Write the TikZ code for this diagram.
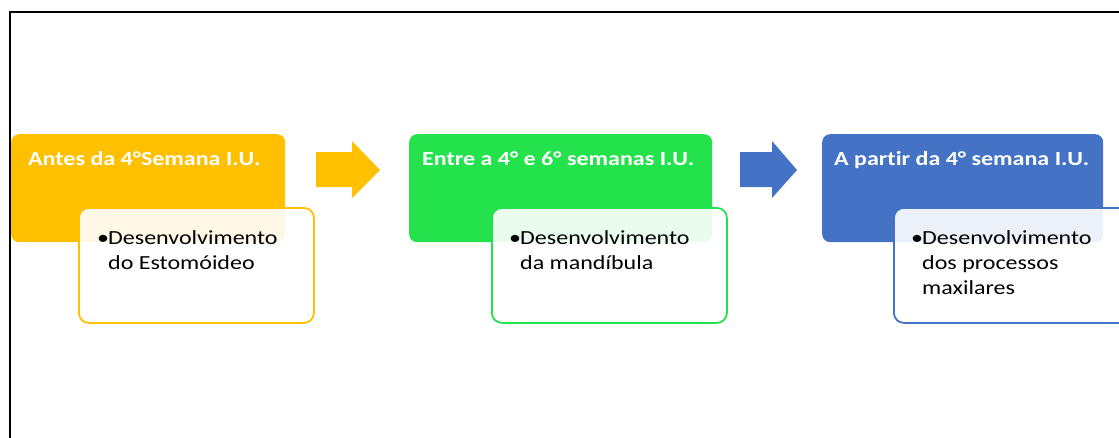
\documentclass[tikz,border=0pt]{standalone}
\usepackage{graphicx}
\usepackage{fontspec}
\setmainfont{Carlito}[Ligatures=NoCommon]
\usepackage{tikz}
\usetikzlibrary{positioning}

\definecolor{stageyellow}{HTML}{FFC000}
\definecolor{stagegreen}{HTML}{24E24C}
\definecolor{stageblue}{HTML}{4472C4}

% text in the reference is a bit wider than tall
\newcommand{\widetext}[1]{\scalebox{1.2}[1]{#1}}
\newcommand{\notelines}[1]{\widetext{\begin{tabular}[t]{@{}l@{}}#1\end{tabular}}}

\tikzset{
  stagebox/.style={rounded corners=8pt, inner sep=0pt, minimum width=274pt, minimum height=108pt, anchor=north west},
  notebox/.style={draw, line width=1.8pt, rounded corners=10pt, fill=white, fill opacity=0.9, inner sep=0pt, minimum width=235pt, minimum height=115pt, anchor=north west},
  stagetitle/.style={anchor=base west, text=white, font=\fontsize{20}{25}\selectfont\bfseries, inner sep=0pt},
  notebullet/.style={anchor=base west, font=\fontsize{20}{25}\selectfont, inner sep=0pt},
  notetext/.style={anchor=base west, font=\fontsize{20}{25}\selectfont, inner sep=0pt}
}

\begin{document}
\begin{tikzpicture}[x=1pt, y=-1pt]
    \useasboundingbox (0,0) rectangle (1119,437);

    % Frame
    \draw[line width=2pt] (10,440) -- (10,12) -- (1122,12);

    % Stage 1
    \node[stagebox, fill=stageyellow] (antes) at (11,134) {};
    \node[stagetitle] (antest) at (28,165) {\widetext{Antes da 4°Semana I.U.}};
    \node[notebox, draw=stageyellow] (antesn) at (78,207) {};
    \node[notebullet] (antesb) at (97,244) {\widetext{\textbullet}};
    \node[notetext] (antesx) at (108,244) {\notelines{Desenvolvimento\\do Estomóideo}};

    % Arrow 1
    \fill[stageyellow] (316,152) -- (352,152) -- (352,141) -- (380,170) -- (352,198) -- (352,187) -- (316,187) -- cycle;

    % Stage 2
    \node[stagebox, fill=stagegreen, minimum width=303pt] (entre) at (409,134) {};
    \node[stagetitle] (entret) at (422,165) {\widetext{Entre a 4° e 6° semanas I.U.}};
    \node[notebox, draw=stagegreen] (entren) at (491,207) {};
    \node[notebullet] (entreb) at (509,244) {\widetext{\textbullet}};
    \node[notetext] (entrex) at (520,244) {\notelines{Desenvolvimento\\da mandíbula}};

    % Arrow 2
    \fill[stageblue] (740,152) -- (772,152) -- (772,141) -- (797,170) -- (772,198) -- (772,187) -- (740,187) -- cycle;

    % Stage 3
    \node[stagebox, fill=stageblue, minimum width=281pt] (partir) at (822,134) {};
    \node[stagetitle] (partirt) at (834,165) {\widetext{A partir da 4° semana I.U.}};
    \node[notebox, draw=stageblue] (partirn) at (893,207) {};
    \node[notebullet] (partirb) at (911,244) {\widetext{\textbullet}};
    \node[notetext] (partirx) at (922,244) {\notelines{Desenvolvimento\\dos processos\\maxilares}};
\end{tikzpicture}
\end{document}
